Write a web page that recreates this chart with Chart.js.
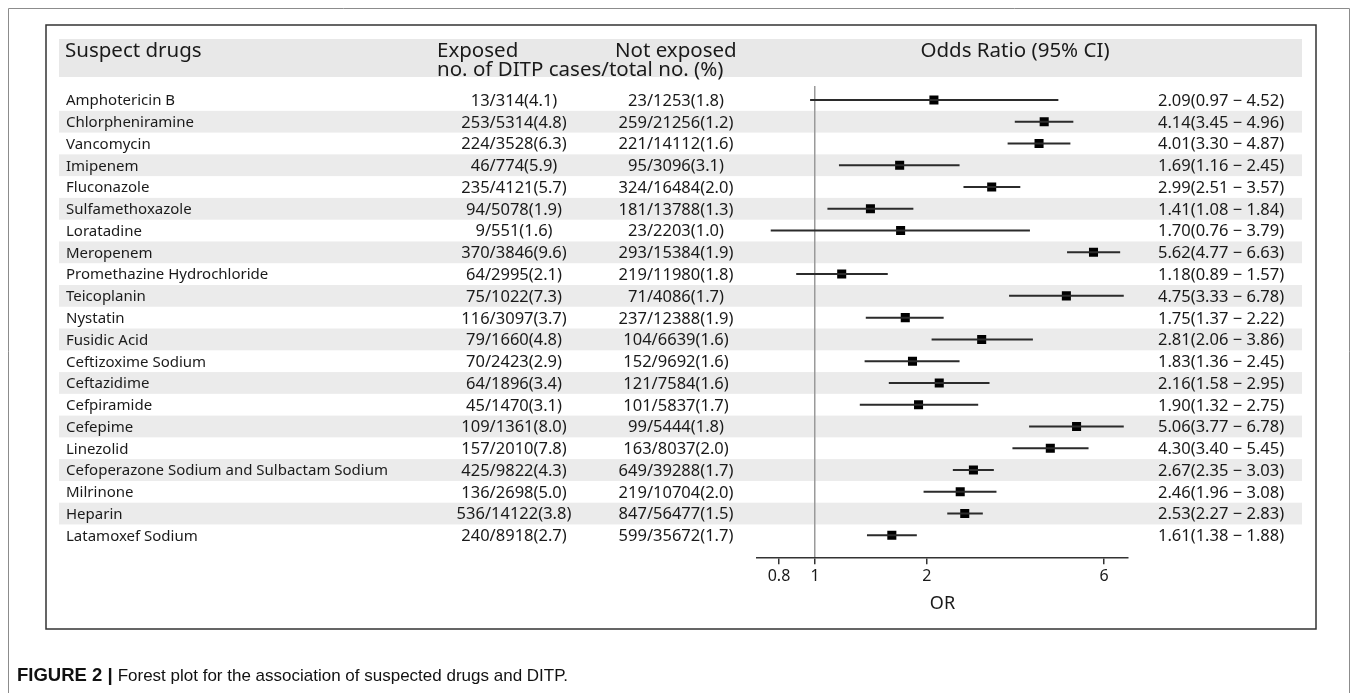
<!DOCTYPE html>
<html>
<head>
<meta charset="utf-8">
<script src="https://cdn.jsdelivr.net/npm/chart.js@4.4.1/dist/chart.umd.min.js"></script>
<style>
  html, body { margin: 0; padding: 0; background: #fff; }
  canvas { display: block; }
</style>
</head>
<body>
<canvas id="forestChart" width="1357" height="693"></canvas>
<script>
// Data: suspected drugs and DITP
const drugs = ['Amphotericin B', 'Chlorpheniramine', 'Vancomycin', 'Imipenem', 'Fluconazole',
    'Sulfamethoxazole', 'Loratadine', 'Meropenem', 'Promethazine Hydrochloride', 'Teicoplanin',
    'Nystatin', 'Fusidic Acid', 'Ceftizoxime Sodium', 'Ceftazidime', 'Cefpiramide', 'Cefepime',
    'Linezolid', 'Cefoperazone Sodium and Sulbactam Sodium', 'Milrinone', 'Heparin', 'Latamoxef Sodium'];
const exposedCases = [13, 253, 224, 46, 235, 94, 9, 370, 64, 75, 116, 79, 70, 64, 45, 109, 157, 425, 136, 536, 240];
const exposedTotals = [314, 5314, 3528, 774, 4121, 5078, 551, 3846, 2995, 1022, 3097, 1660, 2423, 1896, 1470, 1361, 2010, 9822, 2698, 14122, 8918];
const exposedPct = [4.1, 4.8, 6.3, 5.9, 5.7, 1.9, 1.6, 9.6, 2.1, 7.3, 3.7, 4.8, 2.9, 3.4, 3.1, 8.0, 7.8, 4.3, 5.0, 3.8, 2.7];
const unexposedCases = [23, 259, 221, 95, 324, 181, 23, 293, 219, 71, 237, 104, 152, 121, 101, 99, 163, 649, 219, 847, 599];
const unexposedTotals = [1253, 21256, 14112, 3096, 16484, 13788, 2203, 15384, 11980, 4086, 12388, 6639, 9692, 7584, 5837, 5444, 8037, 39288, 10704, 56477, 35672];
const unexposedPct = [1.8, 1.2, 1.6, 3.1, 2.0, 1.3, 1.0, 1.9, 1.8, 1.7, 1.9, 1.6, 1.6, 1.6, 1.7, 1.8, 2.0, 1.7, 2.0, 1.5, 1.7];
const oddsRatio = [2.09, 4.14, 4.01, 1.69, 2.99, 1.41, 1.70, 5.62, 1.18, 4.75, 1.75, 2.81, 1.83, 2.16, 1.90, 5.06, 4.30, 2.67, 2.46, 2.53, 1.61];
const ciLower = [0.97, 3.45, 3.30, 1.16, 2.51, 1.08, 0.76, 4.77, 0.89, 3.33, 1.37, 2.06, 1.36, 1.58, 1.32, 3.77, 3.40, 2.35, 1.96, 2.27, 1.38];
const ciUpper = [4.52, 4.96, 4.87, 2.45, 3.57, 1.84, 3.79, 6.63, 1.57, 6.78, 2.22, 3.86, 2.45, 2.95, 2.75, 6.78, 5.45, 3.03, 3.08, 2.83, 1.88];
const orTicks = [0.8, 1, 2, 6];

const FONT = "'Noto Sans', 'DejaVu Sans', sans-serif";
const TEXT = '#1a1a1a';
const BAND = '#ebebeb';

// CI segments as one line dataset, broken by gaps
const ciPoints = [];
drugs.forEach((d, i) => {
    ciPoints.push({x: ciLower[i], y: i}, {x: ciUpper[i], y: i}, {x: null, y: null});
});
const orPoints = drugs.map((d, i) => ({x: oddsRatio[i], y: i}));

function txt(ctx, s, x, y, size, align, weight) {
    ctx.font = (weight || 'normal') + ' ' + size + 'px ' + FONT;
    ctx.textAlign = align || 'left';
    ctx.textBaseline = 'alphabetic';
    ctx.fillStyle = TEXT;
    ctx.fillText(s, x, y);
}

const tablePlugin = {
    id: 'forestTable',
    beforeDraw(chart) {
        const ctx = chart.ctx;
        const yScale = chart.scales.y;
        ctx.save();
        ctx.fillStyle = '#fff';
        ctx.fillRect(0, 0, chart.width, chart.height);

        // outer figure frame
        ctx.strokeStyle = '#8c8c8c';
        ctx.lineWidth = 1;
        ctx.beginPath();
        ctx.moveTo(8.5, 700); ctx.lineTo(8.5, 8.5); ctx.lineTo(1349.5, 8.5); ctx.lineTo(1349.5, 700);
        ctx.stroke();

        // inner plot box
        ctx.strokeStyle = '#333';
        ctx.lineWidth = 1.5;
        ctx.strokeRect(46, 25, 1270, 604);

        // header band
        ctx.fillStyle = '#e8e8e8';
        ctx.fillRect(59, 39, 1243, 38);

        // alternating row bands
        const rowH = Math.abs(yScale.getPixelForValue(1) - yScale.getPixelForValue(0));
        ctx.fillStyle = BAND;
        drugs.forEach((d, i) => {
            if (i % 2 === 1) {
                const yc = yScale.getPixelForValue(i);
                ctx.fillRect(59, yc - rowH / 2, 1243, rowH);
            }
        });
        ctx.restore();
    },
    afterDraw(chart) {
        const ctx = chart.ctx;
        const yScale = chart.scales.y;
        ctx.save();
        // header
        txt(ctx, 'Suspect drugs', 65, 57, 20.5);
        txt(ctx, 'Exposed', 437, 57, 20.5);
        txt(ctx, 'no. of DITP cases/total no. (%)', 437, 76, 20.5);
        txt(ctx, 'Not exposed', 615, 57, 20.5);
        txt(ctx, 'Odds Ratio (95% CI)', 1015, 57, 20.5, 'center');

        drugs.forEach((d, i) => {
            const yc = yScale.getPixelForValue(i);
            txt(ctx, d, 66, yc + 5.4, 15);
            txt(ctx, exposedCases[i] + '/' + exposedTotals[i] + '(' + exposedPct[i].toFixed(1) + ')', 514, yc + 5.9, 16.5, 'center');
            txt(ctx, unexposedCases[i] + '/' + unexposedTotals[i] + '(' + unexposedPct[i].toFixed(1) + ')', 676, yc + 5.9, 16.5, 'center');
            txt(ctx, oddsRatio[i].toFixed(2) + '(' + ciLower[i].toFixed(2) + ' \u2212 ' + ciUpper[i].toFixed(2) + ')', 1158, yc + 5.9, 16.5);
        });

        // caption
        ctx.textAlign = 'left';
        ctx.fillStyle = '#111';
        ctx.font = "bold 18.5px 'Liberation Sans', Arial, sans-serif";
        ctx.fillText('FIGURE 2 |', 17, 681);
        const w = ctx.measureText('FIGURE 2 |').width;
        ctx.font = "17px 'Liberation Sans', Arial, sans-serif";
        ctx.fillText('Forest plot for the association of suspected drugs and DITP.', 17 + w + 5, 681);
        ctx.restore();
    }
};

const ctx = document.getElementById('forestChart').getContext('2d');
new Chart(ctx, {
    type: 'scatter',
    data: {
        datasets: [
            {
                label: '95% CI',
                data: ciPoints,
                showLine: true,
                spanGaps: false,
                borderColor: '#2b2b2b',
                borderWidth: 2,
                pointRadius: 0
            },
            {
                label: 'Odds Ratio',
                data: orPoints,
                pointStyle: 'rect',
                pointRadius: 6.4,
                backgroundColor: '#000',
                borderColor: '#000',
                borderWidth: 0
            }
        ]
    },
    options: {
        responsive: false,
        animation: false,
        devicePixelRatio: 1,
        layout: { padding: { left: 757, right: 229, top: 86, bottom: 78 } },
        plugins: { legend: { display: false }, tooltip: { enabled: false } },
        scales: {
            x: {
                type: 'logarithmic',
                min: 0.698,
                max: 6.96,
                afterBuildTicks: s => { s.ticks = orTicks.map(v => ({ value: v })); },
                ticks: {
                    autoSkip: false,
                    maxRotation: 0,
                    padding: 3,
                    color: TEXT,
                    font: { family: FONT, size: 16 },
                    callback: v => String(v)
                },
                grid: {
                    drawOnChartArea: true,
                    color: c => (c.tick && c.tick.value === 1) ? '#9a9a9a' : 'rgba(0,0,0,0)',
                    lineWidth: 1.5,
                    tickColor: '#333',
                    tickLength: 6,
                    tickWidth: 1.5
                },
                border: { color: '#333', width: 1.5 },
                title: {
                    display: true,
                    text: 'OR',
                    color: TEXT,
                    font: { family: FONT, size: 18 },
                    padding: { top: 4, bottom: 0 }
                }
            },
            y: {
                type: 'linear',
                reverse: true,
                min: -0.64,
                max: 21.05,
                display: false
            }
        }
    },
    plugins: [tablePlugin]
});
</script>
</body>
</html>
